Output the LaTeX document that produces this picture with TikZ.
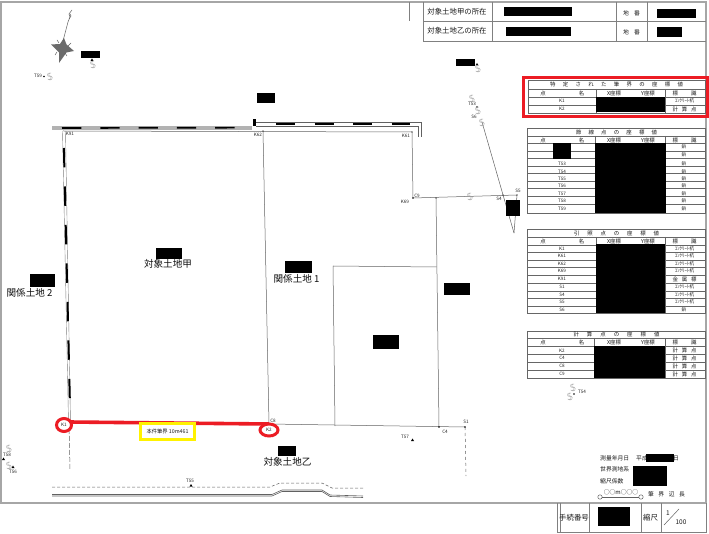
\documentclass[tikz,border=0pt]{standalone}
\usepackage{fontspec}
\setmainfont{Noto Sans CJK JP}
\definecolor{mark}{RGB}{236,28,36}
\definecolor{hilite}{RGB}{255,242,0}
\tikzset{
 x=1pt,y=-1pt,
 ln/.style={draw=black!62,line width=0.5pt},
 gridl/.style={draw=black!60,line width=0.45pt},
 fr/.style={draw=black!50,line width=0.7pt},
 tiny/.style={font=\fontsize{4.6}{5}\selectfont,text=black!85,inner sep=0pt},
 pile/.style={font=\fontsize{4.8}{5}\selectfont,text=black!85,inner sep=0pt},
 lab/.style={font=\fontsize{7.4}{8}\selectfont,text=black!90,inner sep=0pt},
 big/.style={font=\fontsize{9.6}{11}\selectfont,text=black!95,inner sep=0pt},
 hd/.style={font=\fontsize{5.4}{6}\selectfont,text=black!90,inner sep=0pt},
 note/.style={font=\fontsize{5.8}{6}\selectfont,text=black!90,inner sep=0pt},
 sq/.style={draw=black!38,line width=0.35pt,line cap=round},
}
\newcommand{\sprd}[2]{\makebox[#1pt][s]{#2}}
\newcommand{\squig}[1]{%
 \draw[sq] #1 ++(2,-3) .. controls +(-3,-1) and +(-3,2) .. ++(0,3) .. controls +(3,1) and +(2,3) .. ++(-2,3);
 \draw[sq] #1 ++(0.8,-3) .. controls +(-3,-1) and +(-3,2) .. ++(0,3) .. controls +(3,1) and +(2,3) .. ++(-2,3);}
\newcommand{\hdrow}[1]{%
 \node[hd] at (543,#1) {点}; \node[hd] at (581.5,#1) {名};
 \node[hd] at (614,#1) {X座標}; \node[hd] at (648,#1) {Y座標};
 \node[hd] at (684.5,#1) {\sprd{24}{標\hfil 識}};}
\begin{document}
\begin{tikzpicture}
\useasboundingbox (0,0) rectangle (709,534);
\fill[white] (0,0) rectangle (709,534);
% outer frame
\draw[draw=black!35,line width=1.2pt] (1,503) -- (1,2) -- (706,2) -- (706,503) -- cycle;
% title block
\draw[fr] (409,2) -- (409,21);
\draw[fr] (423,2) -- (423,41) -- (706,41);
\draw[fr] (423,21) -- (706,21);
\draw[fr] (492,2) -- (492,41);
\draw[fr] (616,2) -- (616,41);
\draw[fr] (647,2) -- (647,41);
\node[lab] (ta) at (457,12) {対象土地甲の所在};
\node[lab] (tb) at (457,31) {対象土地乙の所在};
\node[note] (ca) at (631.5,13) {\sprd{17}{地\hfil 番}};
\node[note] (cb) at (631.5,32) {\sprd{17}{地\hfil 番}};
\fill (504,7) rectangle (572,16);
\fill (506,27) rectangle (571,36);
\fill (657,9) rectangle (696,18);
\fill (657,27) rectangle (682,37);
% bottom block
\draw[fr] (557,503) -- (557,532) -- (706,532) -- (706,503);
\draw[fr] (560,503) -- (560,532);
\draw[fr] (589,503) -- (589,532);
\draw[fr] (641,503) -- (641,532);
\draw[fr] (661,503) -- (661,532);
\node[lab] (pn) at (574,518) {手続番号};
\node[lab] (sc) at (650.5,518) {縮尺};
\fill (598,507) rectangle (630,526);
\node[hd,font=\fontsize{6.5}{7}\selectfont] (s1) at (668,513) {1};
\node[hd,font=\fontsize{6.5}{7}\selectfont] (s2) at (681,522) {100};
\draw[ln] (664,525) -- (679,509);
% survey notes
\node[note,anchor=west] (n1) at (600,458) {測量年月日};
\node[note,anchor=west] at (636,458) {平成};
\fill (646,454) rectangle (674,462);
\node[note] at (676,458) {日};
\node[note,anchor=west] (n2) at (600,469) {世界測地系};
\node[note,anchor=west] (n3) at (600,481) {縮尺係数};
\fill (633,466) rectangle (667,486);
\node[note] (n4) at (621,492) {○○m○○○};
\node[note] (n5) at (666.5,494) {\sprd{37}{筆\hfil 界\hfil 辺\hfil 長}};
\draw[ln] (600,497) circle (2.2);
\draw[ln] (641,497) circle (2.2);
\draw[ln] (602.2,497) -- (638.8,497);
% compass
\fill[black!58] (64,38) -- (66.5,44.5) -- (74,51) -- (66.5,52.5) -- (59,63) -- (59,52.5) -- (51,44.5) -- (60,44) -- cycle;
\draw[ln] (63,41) -- (68,22) -- (70,17) -- (69,14) -- (72,10);
\draw[ln] (69,19) -- (71,16) -- (70,14);
\draw[ln] (57,40) -- (59,43) (71,43) -- (68,46) (55,55) -- (57,52) (67,56) -- (65,53);
% table 1 (specified)
\draw[gridl] (528,80) rectangle (705,113);
\foreach \yy in {89,97,105} \draw[gridl] (528,\yy) -- (705,\yy);
\draw[gridl] (596.5,89) -- (596.5,113) (665,89) -- (665,113);
\fill (596,97) rectangle (665,112);
\node[hd] (h1) at (616.5,84.5) {\sprd{133}{特\hfil 定\hfil さ\hfil れ\hfil た\hfil 筆\hfil 界\hfil の\hfil 座\hfil 標\hfil 値}};
\hdrow{93}
\node[tiny] at (562,101) {K1}; \node[tiny] at (562,109) {K2};
\node[pile] at (684.5,101) {ｺﾝｸﾘｰﾄ杭};
\node[hd] at (684.5,109) {\sprd{24}{計\hfil 算\hfil 点}};
\draw[draw=mark,line width=3pt] (523.5,77.5) rectangle (707,116.5);
% table 2
\draw[gridl] (527,128) rectangle (705,213);
\foreach \yy in {136,143,151,158,166,173,181,188,196,204} \draw[gridl] (527,\yy) -- (705,\yy);
\draw[gridl] (595,136) -- (595,213) (665,136) -- (665,213);
\fill (595,143) rectangle (666,213);
\fill (553,143) rectangle (571,159);
\node[hd] at (616.5,132) {\sprd{81}{節\hfil 線\hfil 点\hfil の\hfil 座\hfil 標\hfil 値}};
\hdrow{140}
\foreach \yy/\t in {164/T53,171.5/T54,179/T55,186/T56,193.5/T57,201/T58,209/T59} \node[tiny] at (562,\yy) {\t};
\foreach \yy in {147,155,164,171.5,179,186,193.5,201,209} \node[tiny] at (684,\yy) {鋲};
% table 3
\draw[gridl] (527,229) rectangle (705,313);
\foreach \yy in {237,245,252,260,267,275,283,291,298,306} \draw[gridl] (527,\yy) -- (705,\yy);
\draw[gridl] (596,237) -- (596,313) (665,237) -- (665,313);
\fill (596,244) rectangle (665,313);
\node[hd] at (616.5,233) {\sprd{85}{引\hfil 照\hfil 点\hfil の\hfil 座\hfil 標\hfil 値}};
\hdrow{241}
\foreach \yy/\t in {249/K1,256/K61,263.5/K62,271/K69,279/K91,287/S1,295/S4,302/S5,310/S6} \node[tiny] at (562,\yy) {\t};
\foreach \yy in {249,256,263.5,271,287,295,302} \node[pile] at (684.5,\yy) {ｺﾝｸﾘｰﾄ杭};
\node[hd] at (684.5,279) {\sprd{24}{金\hfil 属\hfil 標}};
\node[tiny] at (684,310) {鋲};
% table 4
\draw[gridl] (527,331) rectangle (705,378);
\foreach \yy in {338,346,354,362,370} \draw[gridl] (527,\yy) -- (705,\yy);
\draw[gridl] (594,338) -- (594,378) (665,338) -- (665,378);
\fill (594,346) rectangle (665,378);
\node[hd] at (616.5,334.5) {\sprd{86}{計\hfil 算\hfil 点\hfil の\hfil 座\hfil 標\hfil 値}};
\hdrow{342}
\foreach \yy/\t in {350.5/K2,358/C4,366/C8,374/C9}{\node[tiny] at (562,\yy) {\t}; \node[hd] at (684.5,\yy) {\sprd{24}{計\hfil 算\hfil 点}};}
% parcel lines
\coordinate (K91) at (63,131);
\coordinate (K62) at (263,131);
\coordinate (K61) at (412,132);
\coordinate (K69) at (413,198);
\coordinate (S4) at (503,195);
\coordinate (S5) at (517,195);
\coordinate (C8) at (269,424);
\coordinate (C4) at (439,427);
\coordinate (S1) at (465,427);
\coordinate (K1) at (69,422);
\coordinate (tip) at (514,233);
\draw[ln] (K91) -- (K61) -- (K69) -- (S5) -- (tip);
\draw[ln] (K62) -- (C8);
\draw[ln] (C8) -- (S1);
\draw[ln] (436,198) -- (C4);
\draw[ln] (333,266) -- (436.5,267);
\draw[ln] (333,266) -- (335,426);
\draw[ln,dashed] (S1) -- (466,476);
\draw[ln,dash pattern=on 5pt off 2pt] (K1) -- (70,470);
\draw[ln] (482,122) -- (tip);
% west boundary
\draw[draw=black!50,line width=0.4pt] (62.5,131) -- (68.5,422);
\draw[draw=black!50,line width=0.4pt] (65.5,131) -- (70.5,422);
\draw[black,line width=2pt,dash pattern=on 19.3pt off 19.2pt] (63.9,148) -- (69.8,399);
% north boundary
\fill[black!30] (52,126.5) rectangle (252,130);
\draw[black,line width=1.7pt,dash pattern=on 19.3pt off 19pt] (62,128) -- (252,127.6);
\draw[ln] (256,122) -- (421,122) -- (421,137);
\draw[ln] (256,126) -- (418,126) -- (418,137);
\draw[black,line width=2.2pt,dash pattern=on 19pt off 19.5pt] (276,124.2) -- (410,124.2);
\fill (253,119) rectangle (256,126);
% road
\draw[ln,densely dashed] (52,487) -- (270,487) -- (280,483) -- (322,483) -- (332,488) -- (363,488);
\draw[ln,line width=0.6pt] (52,494.5) -- (272,494.5) -- (282,490) -- (322,490) -- (330,495) -- (363,496);
\draw[ln,line width=0.6pt] (52,496) -- (272,496) -- (282,491.5) -- (322,491.5) -- (330,496.5) -- (363,497.5);
% red boundary
\draw[draw=mark,line width=3.6pt] (K1) -- (C8);
\draw[draw=mark,line width=3pt,fill=white] (64,425) ellipse (7.5 and 6.5);
\draw[draw=mark,line width=3pt,fill=white] (269,430) ellipse (9 and 6);
\node[tiny] (k1l) at (64,425) {K1};
\node[tiny] (k2l) at (269,430) {K2};
\node[draw=hilite,line width=3.2pt,fill=white,inner sep=0pt,minimum width=54pt,minimum height=16pt,font=\fontsize{5.3}{6}\selectfont,text=black!90] (bd) at (167.5,431.5) {本件筆界 10m461};
% labels
\node[tiny] at (70,134) {K91};
\node[tiny] at (258,135) {K62};
\node[tiny] at (406,136) {K61};
\node[tiny] at (405,202) {K69};
\node[tiny] at (417,196) {C9};
\node[tiny] at (499,199) {S4};
\node[tiny] at (518,191) {S5};
\node[tiny] at (472,104) {T53};
\node[tiny] at (474,117) {S6};
\node[tiny] at (273,420.5) {C8};
\node[tiny] at (445,432) {C4};
\node[tiny] at (466,422) {S1};
\node[tiny] at (405,437) {T57};
\node[tiny] at (190,481) {T55};
\node[tiny] at (7,455) {T58};
\node[tiny] at (13,472) {T56};
\node[tiny] at (38,76) {T59};
\node[tiny] at (582,392) {T54};
\fill (411,441) -- (414,441) -- (412.5,438.5) -- cycle;
\fill (189.5,486.5) -- (192.5,486.5) -- (191,484) -- cycle;
\fill (2,460) -- (5,460) -- (3.5,457.5) -- cycle;
\fill (11.5,468) -- (14.5,468) -- (13,465.5) -- cycle;
\fill (90.5,61) -- (93.5,61) -- (92,58.5) -- cycle;
\fill (475.5,65.5) -- (478.5,65.5) -- (477,63) -- cycle;
\fill (44,76.5) circle (0.8);
\fill (574,394) circle (0.8);
\fill (477,107) circle (0.8);
\fill (K69) circle (0.9);
\fill (C4) circle (0.9);
\fill (S1) circle (0.9);
\fill (K62) circle (0.6);
\fill (K61) circle (0.6);
\fill (436,198) circle (0.6);
\fill (S4) circle (0.6);
\fill (S5) circle (0.6);
\squig{(49,76)}
\squig{(92,64)}
\squig{(477,68)}
\squig{(471,98)}
\squig{(477,110)}
\squig{(481,122)}
\squig{(469,196)}
\squig{(8,448)}
\squig{(8,465)}
\squig{(572,387)}
\squig{(569,396)}
% parcel names
\node[big] (koua) at (168,264) {対象土地甲};
\node[big] (rel1) at (296.5,279) {関係土地 1};
\node[big] (rel2) at (29.5,293) {関係土地 2};
\node[big] (otsu) at (287.5,462) {対象土地乙};
\fill (156,248) rectangle (182,259);
\fill (285,261) rectangle (312,273);
\fill (30,274) rectangle (55,287);
\fill (278,446) rectangle (296,456);
\fill (81,51) rectangle (99.5,58);
\fill (257,93) rectangle (275,103);
\fill (456,59) rectangle (475,66);
\fill (506,200) rectangle (520,216);
\fill (444,283) rectangle (470,295);
\fill (373,335) rectangle (399,349);
\end{tikzpicture}
\end{document}
